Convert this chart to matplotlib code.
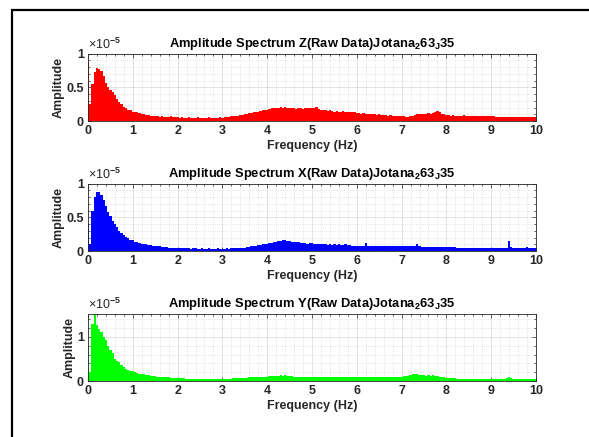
import numpy as np
import matplotlib
matplotlib.use("Agg")
import matplotlib.pyplot as plt
from matplotlib.ticker import MultipleLocator, FuncFormatter
from matplotlib.patches import Rectangle

plt.rcParams['font.family'] = ['Liberation Sans', 'DejaVu Sans']
plt.rcParams['font.weight'] = 'bold'
plt.rcParams['mathtext.fontset'] = 'custom'
plt.rcParams['mathtext.rm'] = 'Liberation Sans'
plt.rcParams['mathtext.bf'] = 'Liberation Sans:bold'
plt.rcParams['mathtext.default'] = 'bf'

# frequency bins (Hz), 0.05 Hz apart
freq = np.linspace(0, 10, 201)

# amplitudes in units of 1e-5, one row per Hz
amp_z = [
    0.88, 0.25, 0.55, 0.72, 0.78, 0.77, 0.74, 0.66, 0.56, 0.51, 0.46, 0.43, 0.38, 0.33, 0.28, 0.25, 0.21, 0.19, 0.17, 0.16,
    0.14, 0.13, 0.13, 0.12, 0.11, 0.10, 0.09, 0.09, 0.08, 0.08, 0.07, 0.07, 0.06, 0.07, 0.06, 0.06, 0.06, 0.07, 0.06, 0.06,
    0.06, 0.05, 0.06, 0.05, 0.05, 0.06, 0.05, 0.05, 0.05, 0.06, 0.05, 0.05, 0.05, 0.05, 0.06, 0.05, 0.05, 0.05, 0.05, 0.06,
    0.05, 0.06, 0.06, 0.06, 0.07, 0.07, 0.08, 0.08, 0.09, 0.09, 0.10, 0.11, 0.12, 0.12, 0.13, 0.14, 0.14, 0.15, 0.16, 0.16,
    0.17, 0.18, 0.19, 0.19, 0.20, 0.19, 0.21, 0.20, 0.21, 0.20, 0.19, 0.20, 0.19, 0.18, 0.19, 0.19, 0.18, 0.19, 0.20, 0.19,
    0.19, 0.20, 0.21, 0.18, 0.17, 0.16, 0.16, 0.15, 0.16, 0.15, 0.14, 0.15, 0.14, 0.14, 0.15, 0.13, 0.14, 0.13, 0.13, 0.13,
    0.12, 0.12, 0.11, 0.12, 0.10, 0.10, 0.11, 0.10, 0.10, 0.09, 0.10, 0.09, 0.09, 0.09, 0.08, 0.09, 0.08, 0.08, 0.08, 0.08,
    0.07, 0.07, 0.06, 0.06, 0.07, 0.08, 0.09, 0.10, 0.10, 0.11, 0.10, 0.11, 0.12, 0.11, 0.12, 0.13, 0.15, 0.13, 0.11, 0.10,
    0.09, 0.09, 0.08, 0.09, 0.08, 0.08, 0.08, 0.08, 0.09, 0.08, 0.08, 0.08, 0.08, 0.07, 0.08, 0.08, 0.08, 0.07, 0.08, 0.07,
    0.07, 0.07, 0.06, 0.06, 0.06, 0.06, 0.06, 0.06, 0.06, 0.06, 0.06, 0.06, 0.06, 0.06, 0.06, 0.06, 0.06, 0.06, 0.06, 0.06,
    0.06,
]

amp_x = [
    0.40, 0.10, 0.60, 0.80, 0.88, 0.87, 0.83, 0.75, 0.66, 0.58, 0.52, 0.45, 0.40, 0.36, 0.29, 0.26, 0.23, 0.21, 0.19, 0.17,
    0.16, 0.14, 0.13, 0.12, 0.11, 0.10, 0.10, 0.09, 0.09, 0.08, 0.08, 0.07, 0.07, 0.06, 0.06, 0.06, 0.05, 0.05, 0.05, 0.05,
    0.05, 0.04, 0.04, 0.04, 0.04, 0.04, 0.035, 0.04, 0.04, 0.035, 0.035, 0.04, 0.035, 0.035, 0.04, 0.035, 0.035, 0.035, 0.04, 0.035,
    0.035, 0.035, 0.04, 0.035, 0.04, 0.04, 0.04, 0.045, 0.05, 0.05, 0.05, 0.055, 0.06, 0.07, 0.07, 0.08, 0.09, 0.09, 0.10, 0.10,
    0.11, 0.12, 0.12, 0.13, 0.14, 0.15, 0.15, 0.16, 0.16, 0.15, 0.15, 0.14, 0.14, 0.13, 0.13, 0.12, 0.12, 0.12, 0.11, 0.12,
    0.12, 0.11, 0.11, 0.11, 0.10, 0.10, 0.10, 0.09, 0.10, 0.09, 0.10, 0.09, 0.10, 0.09, 0.09, 0.10, 0.09, 0.09, 0.08, 0.08,
    0.08, 0.08, 0.08, 0.08, 0.12, 0.08, 0.07, 0.07, 0.08, 0.07, 0.07, 0.07, 0.07, 0.07, 0.07, 0.07, 0.07, 0.07, 0.07, 0.07,
    0.07, 0.07, 0.07, 0.07, 0.08, 0.07, 0.07, 0.11, 0.07, 0.06, 0.06, 0.06, 0.06, 0.06, 0.06, 0.06, 0.06, 0.06, 0.06, 0.06,
    0.06, 0.06, 0.06, 0.06, 0.055, 0.05, 0.05, 0.05, 0.05, 0.05, 0.05, 0.05, 0.05, 0.05, 0.05, 0.05, 0.05, 0.05, 0.05, 0.05,
    0.05, 0.05, 0.05, 0.05, 0.05, 0.05, 0.05, 0.05, 0.15, 0.06, 0.05, 0.05, 0.05, 0.05, 0.05, 0.05, 0.06, 0.05, 0.05, 0.05,
    0.05,
]

amp_y = [
    0.77, 0.20, 1.30, 1.55, 1.27, 1.19, 1.10, 1.00, 0.92, 0.80, 0.70, 0.63, 0.50, 0.45, 0.42, 0.36, 0.32, 0.28, 0.25, 0.23,
    0.22, 0.20, 0.19, 0.17, 0.16, 0.15, 0.14, 0.13, 0.12, 0.12, 0.11, 0.10, 0.10, 0.09, 0.09, 0.08, 0.08, 0.07, 0.07, 0.07,
    0.07, 0.06, 0.06, 0.06, 0.05, 0.05, 0.05, 0.05, 0.05, 0.05, 0.05, 0.04, 0.05, 0.05, 0.04, 0.05, 0.05, 0.05, 0.04, 0.05,
    0.05, 0.05, 0.05, 0.05, 0.05, 0.06, 0.06, 0.06, 0.06, 0.07, 0.07, 0.07, 0.08, 0.08, 0.08, 0.09, 0.09, 0.09, 0.10, 0.10,
    0.10, 0.11, 0.11, 0.11, 0.12, 0.12, 0.13, 0.12, 0.13, 0.12, 0.11, 0.11, 0.10, 0.10, 0.10, 0.09, 0.10, 0.09, 0.09, 0.09,
    0.09, 0.09, 0.09, 0.08, 0.09, 0.08, 0.09, 0.08, 0.08, 0.08, 0.08, 0.09, 0.08, 0.08, 0.08, 0.08, 0.08, 0.08, 0.08, 0.08,
    0.08, 0.08, 0.08, 0.08, 0.09, 0.08, 0.08, 0.08, 0.08, 0.08, 0.08, 0.08, 0.08, 0.09, 0.08, 0.09, 0.09, 0.09, 0.10, 0.10,
    0.10, 0.11, 0.11, 0.12, 0.13, 0.15, 0.17, 0.15, 0.14, 0.13, 0.13, 0.12, 0.13, 0.12, 0.13, 0.12, 0.12, 0.10, 0.09, 0.08,
    0.07, 0.07, 0.06, 0.06, 0.06, 0.05, 0.05, 0.05, 0.05, 0.05, 0.05, 0.05, 0.05, 0.05, 0.05, 0.05, 0.05, 0.05, 0.05, 0.05,
    0.05, 0.05, 0.05, 0.05, 0.05, 0.05, 0.05, 0.06, 0.10, 0.06, 0.05, 0.05, 0.05, 0.05, 0.05, 0.05, 0.05, 0.05, 0.05, 0.05,
    0.05,
]

components = ['Z', 'X', 'Y']
colors = ['#ff0000', '#0000ff', '#00ff00']
y_max = [1.0, 1.0, 1.53]
y_ticks = [[0, 0.5, 1], [0, 0.5, 1], [0, 1]]
y_minor = [0.1, 0.1, 0.2]
ax_bottoms = [121, 251, 381]  # pixel rows of the axes bottoms

W, H = 589, 437
fig = plt.figure(figsize=(W / 100, H / 100), dpi=100)
fig.patch.set_facecolor('white')

dark = '#262626'
for i, amp in enumerate([amp_z, amp_x, amp_y]):
    ax = fig.add_axes([88 / W, 1 - ax_bottoms[i] / H, 448 / W, 67.5 / H])
    ax.bar(freq, amp, width=0.05, color=colors[i], linewidth=0)
    ax.set_xlim(0, 10)
    ax.set_ylim(0, y_max[i])
    ax.set_xticks(range(11))
    ax.set_yticks(y_ticks[i])
    ax.xaxis.set_minor_locator(MultipleLocator(0.2))
    ax.yaxis.set_minor_locator(MultipleLocator(y_minor[i]))
    ax.yaxis.set_major_formatter(FuncFormatter(lambda v, p: '%g' % v))
    ax.set_axisbelow(True)
    ax.grid(which='major', color=dark, alpha=0.15, lw=0.6)
    ax.grid(which='minor', color=dark, alpha=0.2, lw=0.5, linestyle=':')
    ax.tick_params(which='both', direction='in', top=True, right=True,
                   colors=dark, labelsize=9, width=0.5)
    ax.tick_params(which='major', length=3, pad=3)
    ax.tick_params(which='minor', length=1.5)
    for s in ax.spines.values():
        s.set_color(dark)
        s.set_linewidth(0.6)
    ax.set_xlabel('Frequency (Hz)', fontsize=9, fontweight='bold', color=dark, labelpad=2)
    ax.set_ylabel('Amplitude', fontsize=9, fontweight='bold', color=dark, labelpad=1)
    ax.set_title('Amplitude Spectrum %s(Raw Data)Jotana$_2$63$_J$35' % components[i],
                 fontsize=9.3, fontweight='bold', pad=5)
    ax.text(0.0, 1.02, '×10$^{\\mathrm{-5}}$', transform=ax.transAxes,
            fontsize=9, fontweight='normal', color=dark, ha='left', va='bottom')

# page frame around the figure
fig.patches.append(Rectangle((12 / W, -0.05), 1.0, 1 - 10 / H + 0.05,
                             transform=fig.transFigure, fill=False,
                             edgecolor='black', linewidth=1.6))

fig.savefig('out.png', dpi=100)
